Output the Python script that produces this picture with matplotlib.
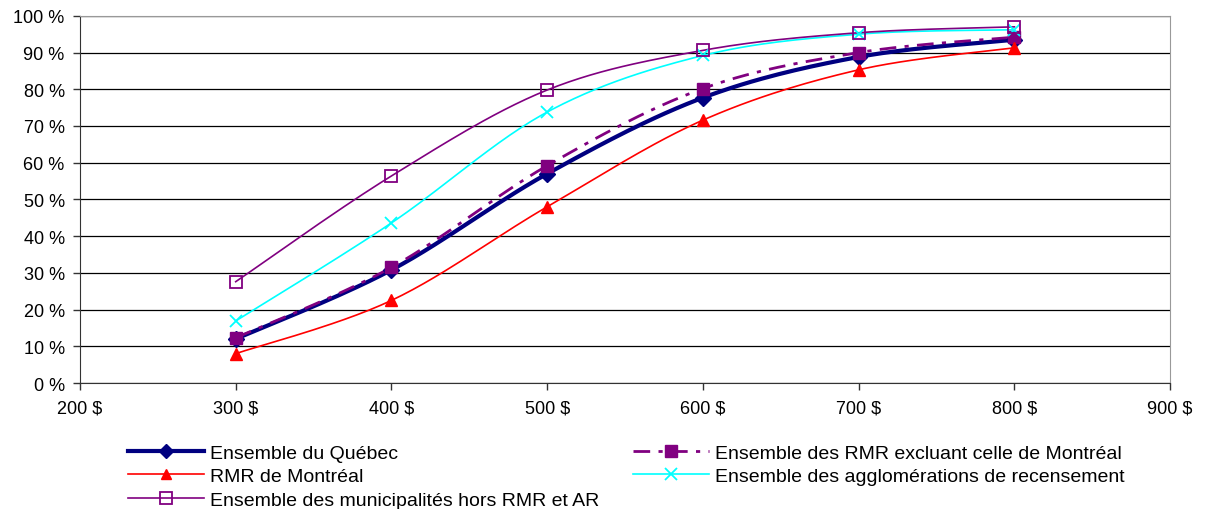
import numpy as np
import matplotlib.pyplot as plt
from matplotlib.ticker import FuncFormatter

plt.rcParams['font.family'] = ['Liberation Sans', 'DejaVu Sans']

loyers = [300, 400, 500, 600, 700, 800]
quebec = [12.0, 30.8, 57.0, 77.7, 88.8, 93.5]
rmr_hors_mtl = [12.3, 31.5, 59.2, 80.2, 90.0, 94.2]
rmr_mtl = [8.0, 22.5, 48.0, 71.6, 85.3, 91.3]
agglos = [16.9, 43.6, 73.8, 89.2, 95.0, 96.2]
hors_rmr_ar = [27.6, 56.4, 79.8, 90.6, 95.4, 97.0]


def smooth(x, y, n=30):
    # courbe lissee facon Excel (Catmull-Rom passant par les points)
    x = np.asarray(x, float)
    y = np.asarray(y, float)
    px = np.concatenate([[x[0]], x, [x[-1]]])
    py = np.concatenate([[y[0]], y, [y[-1]]])
    xs, ys = [], []
    t = np.linspace(0, 1, n)
    for i in range(1, len(px) - 2):
        p0, p1, p2, p3 = [np.array([px[j], py[j]]) for j in range(i - 1, i + 3)]
        c1 = p1 + (p2 - p0) / 6
        c2 = p2 - (p3 - p1) / 6
        pts = ((1 - t) ** 3)[:, None] * p1 + (3 * (1 - t) ** 2 * t)[:, None] * c1 \
            + (3 * (1 - t) * t ** 2)[:, None] * c2 + (t ** 3)[:, None] * p2
        xs.extend(pts[:, 0])
        ys.extend(pts[:, 1])
    return xs, ys


fig = plt.figure(figsize=(12.06, 5.1), dpi=100)
ax = fig.add_axes([0.0663, 0.247, 0.904, 0.72])

series = [
    (quebec, "Ensemble du Québec", dict(color="#000080", lw=3, marker="D", ms=8, ls="-")),
    (rmr_hors_mtl, "Ensemble des RMR excluant celle de Montréal",
     dict(color="#800080", lw=2, marker="s", ms=9, ls=(0, (6, 3, 1.5, 3)))),
    (rmr_mtl, "RMR de Montréal", dict(color="#FF0000", lw=1.2, marker="^", ms=8, ls="-")),
    (agglos, "Ensemble des agglomérations de recensement",
     dict(color="#00FFFF", lw=1.2, marker="x", ms=9, mew=1.3, ls="-")),
    (hors_rmr_ar, "Ensemble des municipalités hors RMR et AR",
     dict(color="#800080", lw=1.2, marker="s", ms=9, mfc="none", mew=1.3, ls="-")),
]

handles = []
for vals, nom, st in series:
    sx, sy = smooth(loyers, vals)
    ax.plot(sx, sy, color=st["color"], lw=st["lw"], ls=st["ls"], zorder=3)
    ax.plot(loyers, vals, ls="none", color=st["color"], marker=st["marker"], ms=st["ms"],
            mfc=st.get("mfc", st["color"]), mec=st["color"], mew=st.get("mew", 1), zorder=4)
    h, = ax.plot([], [], color=st["color"], lw=st["lw"], ls=st["ls"], marker=st["marker"],
                 ms=st["ms"] * 0.9, mfc=st.get("mfc", st["color"]), mec=st["color"],
                 mew=st.get("mew", 1), label=nom)
    handles.append(h)

ax.set_xlim(200, 900)
ax.set_ylim(0, 100)
ax.set_xticks(range(200, 901, 100))
ax.set_yticks(range(0, 101, 10))
ax.xaxis.set_major_formatter(FuncFormatter(lambda v, p: f"{v:.0f} $"))
ax.yaxis.set_major_formatter(FuncFormatter(lambda v, p: f"{v:.0f} %"))
ax.grid(axis="y", color="black", lw=0.9)
ax.set_axisbelow(True)
ax.tick_params(labelsize=13, direction="out", length=5, width=1, color="#333333")
ax.tick_params(axis="x", pad=7)
ax.tick_params(axis="y", pad=6)
ax.spines["right"].set_color("#999999")
ax.spines["top"].set_color("#999999")
ax.spines["left"].set_color("#333333")
ax.spines["bottom"].set_color("#333333")

order = [handles[0], handles[2], handles[4], handles[1], handles[3]]
fig.legend(order, [h.get_label() for h in order], loc="upper left", ncol=2,
           bbox_to_anchor=(0.106, 0.127), frameon=False, fontsize=14,
           handlelength=3.9, handletextpad=0.35, columnspacing=1.7,
           labelspacing=0.3, borderaxespad=0, borderpad=0)

fig.savefig("out.png", dpi=100)
